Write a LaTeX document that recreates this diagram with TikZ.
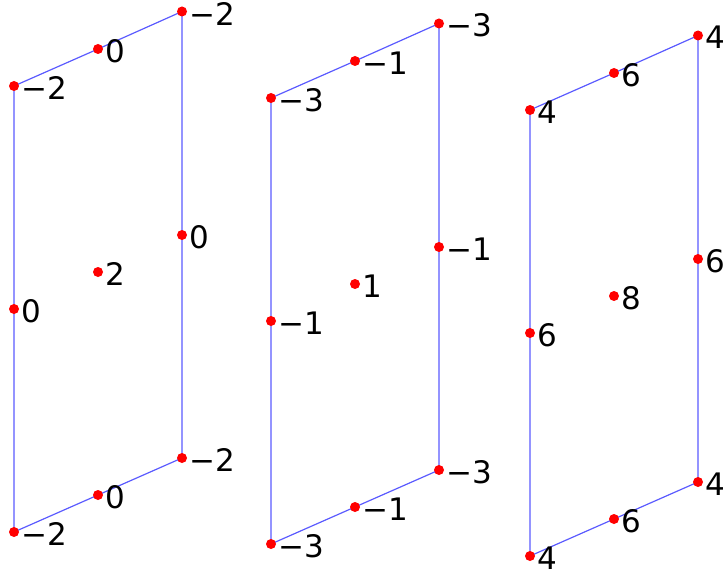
\documentclass[tikz,border=0pt]{standalone}
\usepackage{fontspec}
\setmainfont{DejaVu Sans}
\definecolor{edgeblue}{RGB}{90,90,255}
\begin{document}
\begin{tikzpicture}[x=1pt,y=-1pt,
  dot/.style={circle,fill=red,inner sep=0pt,minimum size=10pt},
  lab/.style={anchor=west,inner sep=0pt,xshift=7pt,yshift=-2pt,font=\fontsize{31}{36}\selectfont},
  edge/.style={draw=edgeblue,line width=1.2pt}]
\useasboundingbox (0,0) rectangle (727,577);
\foreach \p/\dx/\dy/\c/\m/\z in {a/0/0/−2/0/2, b/257/12/−3/−1/1, c/516/24/4/6/8}{
  \begin{scope}[shift={(\dx,\dy)}]
    \coordinate (\p tl) at (14,86);
    \coordinate (\p tm) at (98,49);
    \coordinate (\p tr) at (182,11.5);
    \coordinate (\p rm) at (182,235);
    \coordinate (\p br) at (182,458);
    \coordinate (\p bm) at (98,495);
    \coordinate (\p bl) at (14,532);
    \coordinate (\p lm) at (14,309);
    \coordinate (\p cc) at (98,272);
  \end{scope}
  \draw[edge] (\p tl) -- (\p tm) -- (\p tr) -- (\p rm) -- (\p br) -- (\p bm) -- (\p bl) -- (\p lm) -- cycle;
  \foreach \q/\v in {tl/\c, tr/\c, br/\c, bl/\c, tm/\m, rm/\m, bm/\m, lm/\m, cc/\z}{
    \node[dot] (\p\q d) at (\p\q) {};
    \node[lab] (\p\q l) at (\p\q) {\v};
  }
}
\end{tikzpicture}
\end{document}
